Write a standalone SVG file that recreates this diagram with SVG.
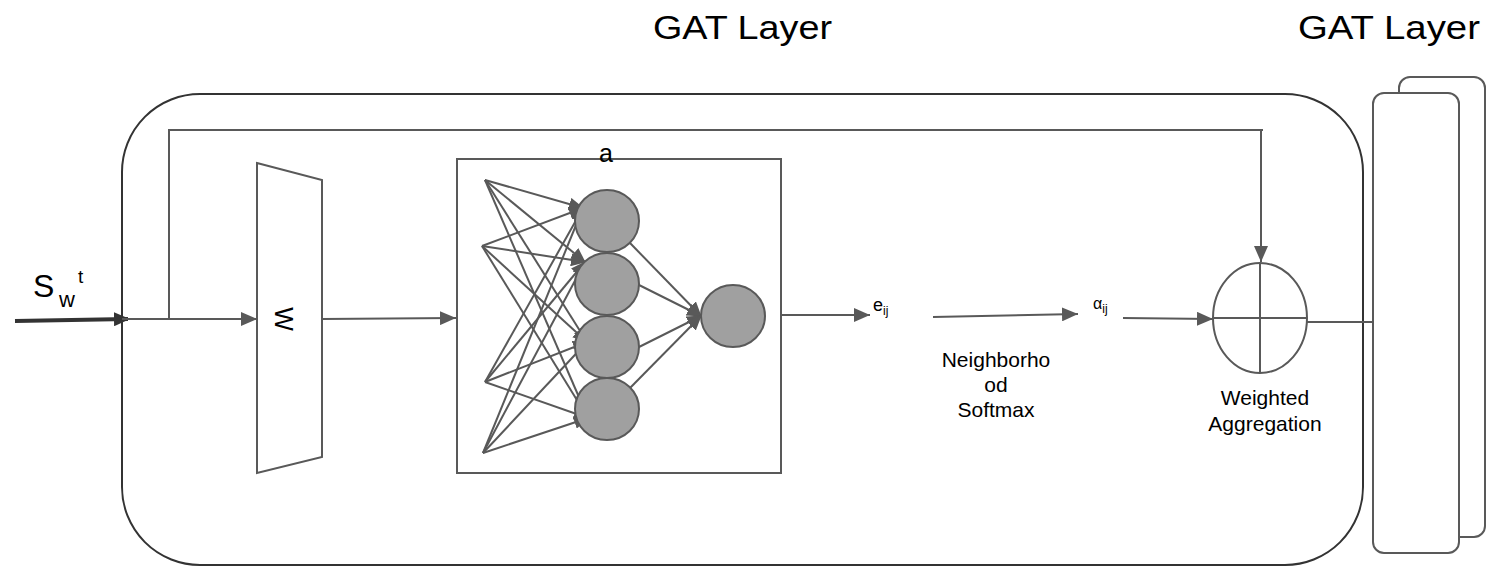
<svg xmlns="http://www.w3.org/2000/svg" width="1492" height="567" viewBox="0 0 1492 567">
<style>
.t{font-family:"Liberation Sans",Arial,sans-serif;fill:#000}
.ln{fill:none;stroke:#595959;stroke-width:2}
.nn{fill:none;stroke:#595959;stroke-width:2}
.neu{fill:#a0a0a0;stroke:#595959;stroke-width:2}
</style>
<defs>
<marker id="ah" markerUnits="userSpaceOnUse" markerWidth="16" markerHeight="14" refX="16" refY="7" orient="auto"><path d="M0,0 L16,7 L0,14 z" fill="#595959"/></marker>
<marker id="ahd" markerUnits="userSpaceOnUse" markerWidth="16" markerHeight="14" refX="14" refY="7" orient="auto"><path d="M0,0 L16,7 L0,14 z" fill="#333"/></marker>
<marker id="ahs" markerUnits="userSpaceOnUse" markerWidth="15" markerHeight="13" refX="14" refY="6.5" orient="auto"><path d="M0,0 L15,6.5 L0,13 z" fill="#595959"/></marker>
</defs>
<rect width="1492" height="567" fill="#fff"/>

<g id="title1"><text class="t" x="653" y="39" font-size="34" textLength="179" lengthAdjust="spacingAndGlyphs">GAT Layer</text></g>
<g id="title2"><text class="t" x="1298" y="39" font-size="34" textLength="182" lengthAdjust="spacingAndGlyphs">GAT Layer</text></g>

<g id="stack-back"><rect x="1399" y="77" width="86" height="460" rx="11" fill="#fff" stroke="#595959" stroke-width="2"/></g>
<g id="stack-front"><rect x="1373" y="93" width="86" height="460" rx="11" fill="#fff" stroke="#595959" stroke-width="2"/></g>

<g id="gat-layer"><rect x="122" y="94" width="1241" height="471" rx="78" fill="none" stroke="#333" stroke-width="2"/></g>

<g id="input-label">
<text class="t" x="33" y="297" font-size="32">S</text>
<text class="t" x="59" y="307" font-size="22">w</text>
<text class="t" x="78" y="283" font-size="19">t</text>
</g>

<g id="W-block">
<polygon points="257,163 322,180 322,457 257,473" fill="#fff" stroke="#595959" stroke-width="2"/>
<text class="t" font-size="25" transform="translate(284,319) rotate(90)" text-anchor="middle" dominant-baseline="central">W</text>
</g>

<g id="attention-box">
<rect x="457" y="159" width="324" height="314" fill="#fff" stroke="#595959" stroke-width="2"/>
<text class="t" x="606" y="162" font-size="25" text-anchor="middle">a</text>
</g>

<g id="nn-edges">
<path class="nn" marker-end="url(#ahs)" d="M485,180 L583,208"/>
<path class="nn" marker-end="url(#ahs)" d="M485,180 L585,262"/>
<path class="nn" marker-end="url(#ahs)" d="M485,180 L587,342"/>
<path class="nn" marker-end="url(#ahs)" d="M485,180 L588,418"/>
<path class="nn" marker-end="url(#ahs)" d="M482,246 L583,208"/>
<path class="nn" marker-end="url(#ahs)" d="M482,246 L585,262"/>
<path class="nn" marker-end="url(#ahs)" d="M482,246 L587,342"/>
<path class="nn" marker-end="url(#ahs)" d="M482,246 L588,418"/>
<path class="nn" marker-end="url(#ahs)" d="M485,382 L583,208"/>
<path class="nn" marker-end="url(#ahs)" d="M485,382 L585,262"/>
<path class="nn" marker-end="url(#ahs)" d="M485,382 L587,342"/>
<path class="nn" marker-end="url(#ahs)" d="M485,382 L588,418"/>
<path class="nn" marker-end="url(#ahs)" d="M483,453 L583,208"/>
<path class="nn" marker-end="url(#ahs)" d="M483,453 L585,262"/>
<path class="nn" marker-end="url(#ahs)" d="M483,453 L587,342"/>
<path class="nn" marker-end="url(#ahs)" d="M483,453 L588,418"/>
<path class="nn" marker-end="url(#ahs)" d="M630,243 L701,316"/>
<path class="nn" marker-end="url(#ahs)" d="M639,285 L701,316"/>
<path class="nn" marker-end="url(#ahs)" d="M639,347 L701,316"/>
<path class="nn" marker-end="url(#ahs)" d="M630,388 L701,316"/>
</g>

<g id="hidden-1"><ellipse class="neu" cx="607" cy="221" rx="32" ry="31"/></g>
<g id="hidden-2"><ellipse class="neu" cx="607" cy="284" rx="32" ry="31"/></g>
<g id="hidden-3"><ellipse class="neu" cx="607" cy="347" rx="32" ry="31"/></g>
<g id="hidden-4"><ellipse class="neu" cx="607" cy="409" rx="32" ry="31"/></g>
<g id="output-neuron"><ellipse class="neu" cx="733" cy="316" rx="32" ry="31"/></g>

<g id="eij"><text class="t" x="873" y="311" font-size="18">e<tspan font-size="12" dy="4">ij</tspan></text></g>
<g id="alphaij"><text class="t" x="1093" y="309" font-size="16">α<tspan font-size="12" dy="4">ij</tspan></text></g>

<g id="softmax-label">
<text class="t" x="996" y="367" font-size="21" text-anchor="middle">Neighborho</text>
<text class="t" x="996" y="392" font-size="21" text-anchor="middle">od</text>
<text class="t" x="996" y="417" font-size="21" text-anchor="middle">Softmax</text>
</g>

<g id="aggregation">
<ellipse cx="1260" cy="318" rx="47" ry="55" fill="#fff" stroke="#595959" stroke-width="2"/>
<path class="ln" d="M1260,263 V373 M1213,318 H1307"/>
<text class="t" x="1265" y="405" font-size="21" text-anchor="middle">Weighted</text>
<text class="t" x="1265" y="431" font-size="21" text-anchor="middle">Aggregation</text>
</g>

<g id="connectors">
<path d="M15,321 L128,319" fill="none" stroke="#333" stroke-width="4" marker-end="url(#ahd)"/>
<path class="ln" marker-end="url(#ah)" d="M122,319 L257,319"/>
<path class="ln" d="M169,319 V130 H1263"/>
<path class="ln" marker-end="url(#ah)" d="M1261,130 V262"/>
<path class="ln" marker-end="url(#ah)" d="M322,319 L456,318"/>
<path class="ln" marker-end="url(#ah)" d="M782,315 L870,315"/>
<path class="ln" marker-end="url(#ah)" d="M933,317 L1078,314"/>
<path class="ln" marker-end="url(#ah)" d="M1123,318 L1213,319"/>
<path class="ln" d="M1307,322 H1373"/>
</g>
</svg>
